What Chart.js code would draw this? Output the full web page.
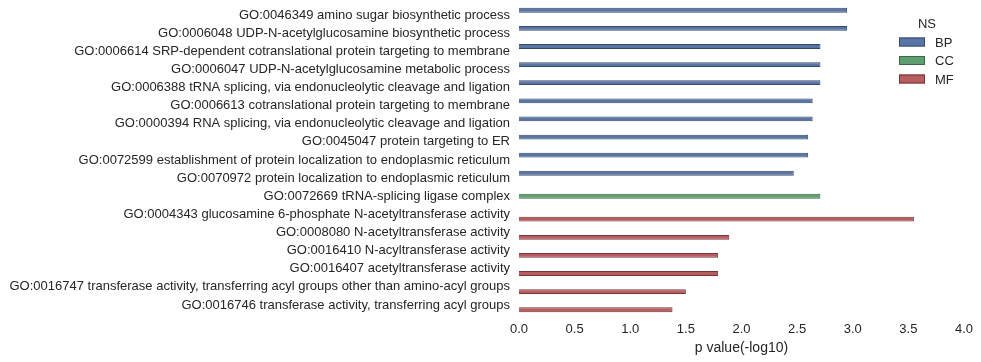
<!DOCTYPE html>
<html>
<head>
<meta charset="utf-8">
<script src="https://cdn.jsdelivr.net/npm/chart.js@4.4.0/dist/chart.umd.min.js"></script>
<style>
  html, body { margin: 0; padding: 0; background: #fff; }
</style>
</head>
<body>
<canvas id="goChart" width="981" height="362"></canvas>
<script>
// Datos
const categories = [
  'GO:0046349 amino sugar biosynthetic process',
  'GO:0006048 UDP-N-acetylglucosamine biosynthetic process',
  'GO:0006614 SRP-dependent cotranslational protein targeting to membrane',
  'GO:0006047 UDP-N-acetylglucosamine metabolic process',
  'GO:0006388 tRNA splicing, via endonucleolytic cleavage and ligation',
  'GO:0006613 cotranslational protein targeting to membrane',
  'GO:0000394 RNA splicing, via endonucleolytic cleavage and ligation',
  'GO:0045047 protein targeting to ER',
  'GO:0072599 establishment of protein localization to endoplasmic reticulum',
  'GO:0070972 protein localization to endoplasmic reticulum',
  'GO:0072669 tRNA-splicing ligase complex',
  'GO:0004343 glucosamine 6-phosphate N-acetyltransferase activity',
  'GO:0008080 N-acetyltransferase activity',
  'GO:0016410 N-acyltransferase activity',
  'GO:0016407 acetyltransferase activity',
  'GO:0016747 transferase activity, transferring acyl groups other than amino-acyl groups',
  'GO:0016746 transferase activity, transferring acyl groups'
];
const nsLabels = ['BP', 'CC', 'MF'];
const bpValues = [2.95, 2.95, 2.71, 2.71, 2.71, 2.64, 2.64, 2.60, 2.60, 2.47, null, null, null, null, null, null, null];
const ccValues = [null, null, null, null, null, null, null, null, null, null, 2.71, null, null, null, null, null, null];
const mfValues = [null, null, null, null, null, null, null, null, null, null, null, 3.55, 1.89, 1.79, 1.79, 1.50, 1.38];

const fillColors = ['rgb(88,117,164)', 'rgb(95,158,110)', 'rgb(181,93,96)'];
const edgeColors = ['rgb(52,72,108)', 'rgb(56,104,68)', 'rgb(120,52,55)'];
const textColor = '#262626';
const fontFamily = '"Liberation Sans", Arial, sans-serif';

// Leyenda dibujada a mano dentro del area del grafico
const nsLegend = {
  id: 'nsLegend',
  afterDraw(chart) {
    const ctx = chart.ctx;
    ctx.save();
    ctx.font = '13px ' + fontFamily;
    ctx.fillStyle = textColor;
    ctx.textAlign = 'center';
    ctx.textBaseline = 'middle';
    ctx.fillText('NS', 927, 24);
    ctx.textAlign = 'left';
    chart.data.datasets.forEach(function (ds, i) {
      const y = 42 + i * 18.5;
      ctx.fillStyle = ds.backgroundColor;
      ctx.fillRect(899, y - 4.5, 26, 9);
      ctx.strokeStyle = ds.borderColor;
      ctx.lineWidth = 1;
      ctx.strokeRect(899.5, y - 4, 25, 8);
      ctx.fillStyle = textColor;
      ctx.fillText(ds.label, 935, y + 1);
    });
    ctx.restore();
  }
};

const config = {
  type: 'bar',
  data: {
    labels: categories,
    datasets: [bpValues, ccValues, mfValues].map(function (vals, i) {
      return {
        label: nsLabels[i],
        data: vals,
        backgroundColor: fillColors[i],
        borderColor: edgeColors[i],
        borderWidth: 1,
        categoryPercentage: 0.8,
        barPercentage: 1.0
      };
    })
  },
  options: {
    indexAxis: 'y',
    responsive: false,
    animation: false,
    layout: { padding: { top: 6, right: 16, bottom: 0, left: 0 } },
    plugins: {
      legend: { display: false },
      tooltip: { enabled: false }
    },
    scales: {
      y: {
        grid: { display: false, drawTicks: false },
        border: { display: false },
        ticks: {
          color: textColor,
          font: { family: fontFamily, size: 13 },
          padding: 9,
          autoSkip: false
        },
        afterFit: function (scale) {
          scale.width = 519;
          scale.paddingTop = 0;
          scale.paddingBottom = 0;
        }
      },
      x: {
        min: 0,
        max: 4,
        grid: { display: false, drawTicks: false },
        border: { display: false },
        ticks: {
          stepSize: 0.5,
          color: textColor,
          font: { family: fontFamily, size: 13 },
          padding: 8,
          callback: function (v) { return Number(v).toFixed(1); }
        },
        title: {
          display: true,
          text: 'p value(-log10)',
          color: textColor,
          font: { family: fontFamily, size: 14 },
          padding: { top: 0, bottom: 5 }
        },
        afterFit: function (scale) { scale.height = 48; }
      }
    }
  },
  plugins: [nsLegend]
};

const goChart = new Chart(document.getElementById('goChart'), config);
</script>
</body>
</html>
